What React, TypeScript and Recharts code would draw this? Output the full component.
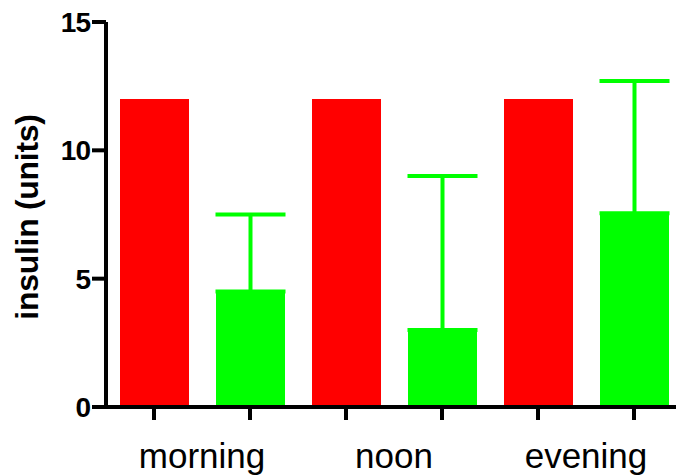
import React from "react"
import { Bar, BarChart, Cell, ErrorBar, XAxis, YAxis } from "recharts"

const periods = ["morning", "noon", "evening"]
const redValues = [12, 12, 12]
const greenValues = [4.5, 3.0, 7.55]
const greenErrors = [3.0, 6.0, 5.15]
const yTicks = [0, 5, 10, 15]

const RED = "#ff0000"
const GREEN = "#00ff00"
const FONT = "'Liberation Sans', Arial, sans-serif"

// one row per bar: red then green for each period
const rows = periods.flatMap((p, i) => [
  { key: `${p}-a`, label: p, value: redValues[i], err: null, fill: RED },
  { key: `${p}-b`, label: "", value: greenValues[i], err: [0, greenErrors[i]], fill: GREEN },
])

const BAND = 96

function PeriodTick(props: any) {
  const { x, y, payload } = props
  const row = rows[payload.index]
  if (!row || !row.label) return null
  return (
    <text
      x={x + BAND / 2}
      y={y}
      dy={46}
      textAnchor="middle"
      fontFamily={FONT}
      fontSize={35}
      fill="#000"
    >
      {row.label}
    </text>
  )
}

function YTitle() {
  return (
    <text
      x={38}
      y={217}
      transform="rotate(-90 38 217)"
      textAnchor="middle"
      fontFamily={FONT}
      fontWeight="bold"
      fontSize={32}
      letterSpacing={-0.3}
      fill="#000"
    >
      insulin (units)
    </text>
  )
}

export default function App() {
  return (
    <div
      style={{
        position: "absolute",
        left: 0,
        top: 0,
        width: 676,
        height: 475,
        overflow: "hidden",
        background: "#fff",
      }}
    >
      <BarChart
        width={690}
        height={475}
        data={rows}
        margin={{ top: 22, right: 8, left: 0, bottom: 0 }}
        barSize={69}
      >
        <XAxis
          dataKey="key"
          height={68}
          interval={0}
          axisLine={{ stroke: "#000", strokeWidth: 4 }}
          tickLine={{ stroke: "#000", strokeWidth: 4 }}
          tickSize={13}
          tickMargin={2}
          tick={<PeriodTick />}
        />
        <YAxis
          width={106}
          domain={[0, 15]}
          ticks={yTicks}
          interval={0}
          axisLine={{ stroke: "#000", strokeWidth: 4 }}
          tickLine={{ stroke: "#000", strokeWidth: 4 }}
          tickSize={14}
          tickMargin={2}
          tick={{ fill: "#000", fontSize: 28, fontWeight: "bold", fontFamily: FONT, letterSpacing: -1 }}
          label={<YTitle />}
        />
        <Bar dataKey="value" isAnimationActive={false}>
          {rows.map((r) => (
            <Cell key={r.key} fill={r.fill} />
          ))}
          <ErrorBar dataKey="err" width={35} stroke={GREEN} strokeWidth={4} />
        </Bar>
      </BarChart>
    </div>
  )
}
